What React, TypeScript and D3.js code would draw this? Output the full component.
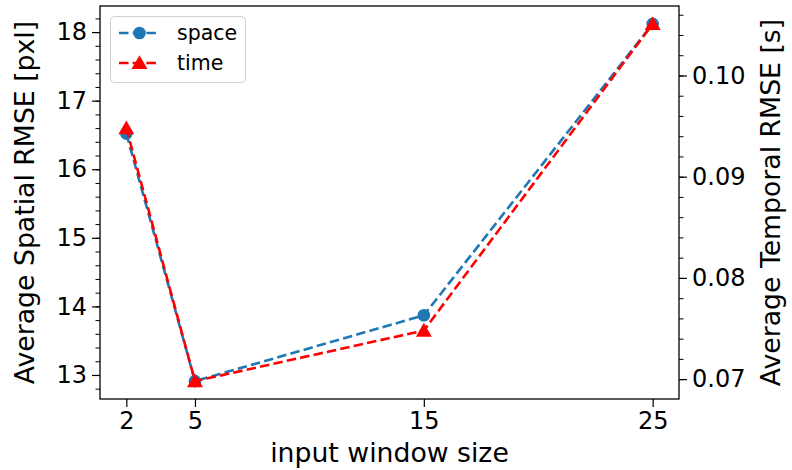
import React, { useRef, useEffect } from 'react';
import * as d3 from 'd3';

// data
const windowSizes = [2, 5, 15, 25];
const spaceRmse = [16.52, 12.91, 13.87, 18.12];
const timeRmse = [0.0948, 0.0698, 0.0748, 0.1051];
const xTicks = [2, 5, 15, 25];
const leftTicks = [13, 14, 15, 16, 17, 18];
const rightTicks = [0.07, 0.08, 0.09, 0.1];

const BLUE = '#1f77b4';
const RED = '#ff0000';
const FONT = '"DejaVu Sans", sans-serif';

const App = () => {
  const svgRef = useRef<SVGSVGElement>(null);

  useEffect(() => {
    const w = 792;
    const h = 470;
    const m = { left: 100, right: 679, top: 6, bottom: 399 };
    const svg = d3.select(svgRef.current).attr('width', w).attr('height', h);
    svg.selectAll('*').remove();

    // matplotlib-like 5% margins
    const pad = (lo: number, hi: number) => [lo - (hi - lo) * 0.05, hi + (hi - lo) * 0.05];
    const xDom = pad(d3.min(windowSizes)!, d3.max(windowSizes)!);
    const yDom = pad(d3.min(spaceRmse)!, d3.max(spaceRmse)!);
    const y2Dom = pad(d3.min(timeRmse)!, d3.max(timeRmse)!);

    const x = d3.scaleLinear().domain(xDom).range([m.left, m.right]);
    const y = d3.scaleLinear().domain(yDom).range([m.bottom, m.top]);
    const y2 = d3.scaleLinear().domain(y2Dom).range([m.bottom, m.top]);

    const tickSize = 24;
    const labelSize = 26.7;

    // x axis
    const xAxis = svg.append('g').attr('transform', `translate(0,${m.bottom})`);
    xAxis
      .call(d3.axisBottom(x).tickValues(xTicks).tickFormat(d3.format('d')).tickSize(8).tickPadding(5))
      .call((g) => g.select('.domain').remove());
    xAxis.selectAll('text').attr('font-size', tickSize).attr('font-family', FONT).attr('fill', '#000');
    xAxis.selectAll('line').attr('stroke', '#000').attr('stroke-width', 1.2);

    // left axis
    const yMinor = d3.range(12.6, 18.4001, 0.2).filter((v) => v >= yDom[0] && v <= yDom[1]);
    svg
      .append('g')
      .attr('transform', `translate(${m.left},0)`)
      .call(d3.axisLeft(y).tickValues(yMinor).tickFormat(() => '').tickSize(4.5))
      .call((g) => g.select('.domain').remove())
      .selectAll('line')
      .attr('stroke', '#000');
    const yAxis = svg.append('g').attr('transform', `translate(${m.left},0)`);
    yAxis
      .call(d3.axisLeft(y).tickValues(leftTicks).tickFormat(d3.format('d')).tickSize(8).tickPadding(5))
      .call((g) => g.select('.domain').remove());
    yAxis.selectAll('text').attr('font-size', tickSize).attr('font-family', FONT).attr('fill', '#000');
    yAxis.selectAll('line').attr('stroke', '#000').attr('stroke-width', 1.2);

    // right axis
    const y2Minor = d3.range(0.066, 0.108, 0.002).filter((v) => v >= y2Dom[0] && v <= y2Dom[1]);
    svg
      .append('g')
      .attr('transform', `translate(${m.right},0)`)
      .call(d3.axisRight(y2).tickValues(y2Minor).tickFormat(() => '').tickSize(4.5))
      .call((g) => g.select('.domain').remove())
      .selectAll('line')
      .attr('stroke', '#000');
    const y2Axis = svg.append('g').attr('transform', `translate(${m.right},0)`);
    y2Axis
      .call(d3.axisRight(y2).tickValues(rightTicks).tickFormat(d3.format('.2f')).tickSize(8).tickPadding(5))
      .call((g) => g.select('.domain').remove());
    y2Axis.selectAll('text').attr('font-size', tickSize).attr('font-family', FONT).attr('fill', '#000');
    y2Axis.selectAll('line').attr('stroke', '#000').attr('stroke-width', 1.2);

    // axis labels
    svg
      .append('text')
      .attr('x', (m.left + m.right) / 2)
      .attr('y', 462)
      .attr('text-anchor', 'middle')
      .attr('font-size', labelSize)
      .attr('font-family', FONT)
      .text('input window size');
    svg
      .append('text')
      .attr('transform', `translate(34,${(m.top + m.bottom) / 2}) rotate(-90)`)
      .attr('text-anchor', 'middle')
      .attr('font-size', labelSize)
      .attr('font-family', FONT)
      .text('Average Spatial RMSE [pxl]');
    svg
      .append('text')
      .attr('transform', `translate(780,${(m.top + m.bottom) / 2}) rotate(-90)`)
      .attr('text-anchor', 'middle')
      .attr('font-size', labelSize)
      .attr('font-family', FONT)
      .text('Average Temporal RMSE [s]');

    const triangle = d3.symbol().type(d3.symbolTriangle).size(110);

    // space series
    const spaceLine = d3
      .line<number>()
      .x((d, i) => x(windowSizes[i]))
      .y((d) => y(d));
    svg
      .append('path')
      .datum(spaceRmse)
      .attr('d', spaceLine)
      .attr('fill', 'none')
      .attr('stroke', BLUE)
      .attr('stroke-width', 2.6)
      .attr('stroke-dasharray', '9.5,4.2');
    svg
      .selectAll('.space-pt')
      .data(spaceRmse)
      .join('circle')
      .attr('cx', (d, i) => x(windowSizes[i]))
      .attr('cy', (d) => y(d))
      .attr('r', 6.3)
      .attr('fill', BLUE);

    // time series
    const timeLine = d3
      .line<number>()
      .x((d, i) => x(windowSizes[i]))
      .y((d) => y2(d));
    svg
      .append('path')
      .datum(timeRmse)
      .attr('d', timeLine)
      .attr('fill', 'none')
      .attr('stroke', RED)
      .attr('stroke-width', 2.6)
      .attr('stroke-dasharray', '9.5,4.2');
    svg
      .selectAll('.time-pt')
      .data(timeRmse)
      .join('path')
      .attr('d', triangle)
      .attr('transform', (d, i) => `translate(${x(windowSizes[i])},${y2(d) + 1.5})`)
      .attr('fill', RED);

    // frame
    svg
      .append('rect')
      .attr('x', m.left)
      .attr('y', m.top)
      .attr('width', m.right - m.left)
      .attr('height', m.bottom - m.top)
      .attr('fill', 'none')
      .attr('stroke', '#000')
      .attr('stroke-width', 1.3);

    // legend
    const lg = svg.append('g');
    lg.append('rect')
      .attr('x', 110.5)
      .attr('y', 16.5)
      .attr('width', 135)
      .attr('height', 66)
      .attr('rx', 4)
      .attr('fill', '#fff')
      .attr('fill-opacity', 0.8)
      .attr('stroke', '#d0d0d0');
    const items = [
      { name: 'space', color: BLUE, mark: 'circle', cy: 33 },
      { name: 'time', color: RED, mark: 'tri', cy: 63 },
    ];
    items.forEach((it) => {
      lg.append('line')
        .attr('x1', 119)
        .attr('x2', 160)
        .attr('y1', it.cy)
        .attr('y2', it.cy)
        .attr('stroke', it.color)
        .attr('stroke-width', 2.6)
        .attr('stroke-dasharray', '9.5,4.2');
      if (it.mark === 'circle') {
        lg.append('circle').attr('cx', 139.5).attr('cy', it.cy).attr('r', 6.3).attr('fill', it.color);
      } else {
        lg.append('path')
          .attr('d', triangle)
          .attr('transform', `translate(139.5,${it.cy + 1.5})`)
          .attr('fill', it.color);
      }
      lg.append('text')
        .attr('x', 177)
        .attr('y', it.cy + 7)
        .attr('font-size', 20.5)
        .attr('font-family', FONT)
        .text(it.name);
    });
  }, []);

  return (
    <div>
      <svg ref={svgRef} style={{ position: 'absolute', left: 0, top: 0 }}></svg>
    </div>
  );
};

export default App;
